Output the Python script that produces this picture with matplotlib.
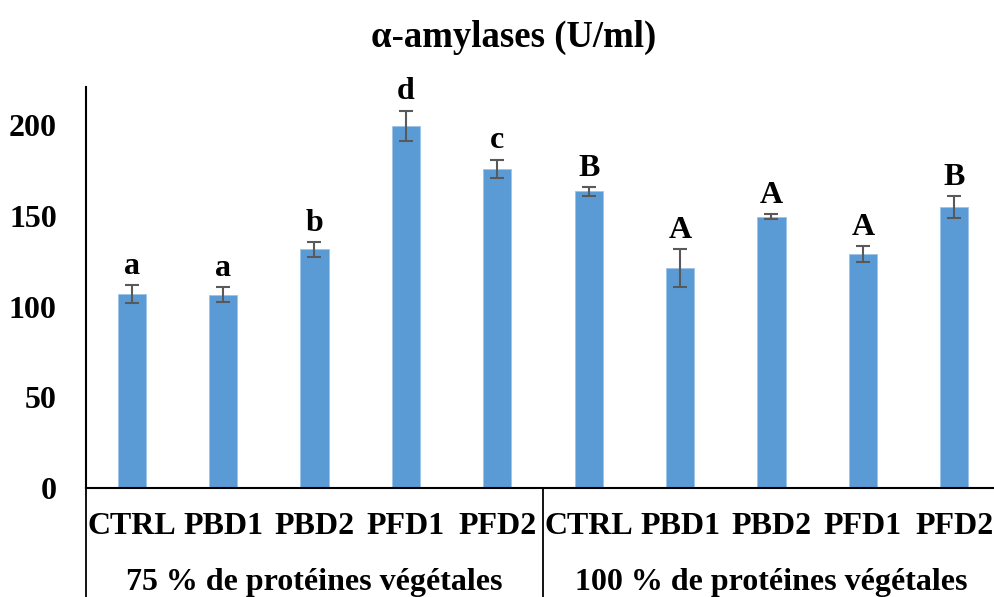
import matplotlib.pyplot as plt
import matplotlib.transforms as mtransforms

plt.rcParams['font.family'] = ['Liberation Serif', 'DejaVu Serif']
plt.rcParams['font.weight'] = 'bold'

# data
categories = ['CTRL', 'PBD1', 'PBD2', 'PFD1', 'PFD2',
              'CTRL', 'PBD1', 'PBD2', 'PFD1', 'PFD2']
values = [107, 106.5, 131.5, 199.5, 176, 163.5, 121, 149.5, 129, 155]
errors = [5, 4, 4, 8.5, 5, 2.5, 10.5, 1.5, 4.5, 6]
letters = ['a', 'a', 'b', 'd', 'c', 'B', 'A', 'A', 'A', 'B']
groups = ['75 % de protéines végétales', '100 % de protéines végétales']

fig = plt.figure(figsize=(9.95, 5.97), dpi=100)
ax = fig.add_axes([0.0864, 0.1826, 0.9186, 0.6717])

x = list(range(len(categories)))
ax.bar(x, values, width=0.31, color='#5B9BD5', edgecolor='#9DC3E6', linewidth=0.6, zorder=2)
ax.errorbar(x, values, yerr=errors, fmt='none', ecolor='#595959',
            elinewidth=1.5, capsize=5, capthick=1.5, zorder=3)

for xi, v, e, lab in zip(x, values, errors, letters):
    ax.annotate(lab, (xi, v + e), xytext=(0, 3), textcoords='offset points',
                ha='center', va='bottom', fontsize=23, fontweight='bold')

ax.set_xlim(-0.5, 9.5)
ax.set_ylim(0, 221)
ax.set_yticks([0, 50, 100, 150, 200])
ax.tick_params(axis='y', length=0, labelsize=23, pad=21)
ax.set_xticks(x)
ax.set_xticklabels(categories)
ax.tick_params(axis='x', length=0, labelsize=23, pad=17)
for lbl in ax.get_yticklabels() + ax.get_xticklabels():
    lbl.set_fontweight('bold')

ax.spines['top'].set_visible(False)
ax.spines['right'].set_visible(False)
ax.spines['left'].set_linewidth(1.5)
ax.spines['bottom'].set_linewidth(1.5)

# group labels and separators below the axis
trans = mtransforms.blended_transform_factory(ax.transData, ax.transAxes)
ax.text(2, -0.236, groups[0], transform=trans, ha='center', va='center',
        fontsize=23, fontweight='bold')
ax.text(7, -0.236, groups[1], transform=trans, ha='center', va='center',
        fontsize=23, fontweight='bold')
for xs in [-0.5, 4.5]:
    ax.plot([xs, xs], [0, -0.3], transform=trans, color='black',
            linewidth=1.3, clip_on=False)

fig.text(0.516, 0.938, 'α-amylases (U/ml)', ha='center', va='center',
         fontsize=26.5, fontweight='bold')

fig.savefig('out.png', dpi=100)
